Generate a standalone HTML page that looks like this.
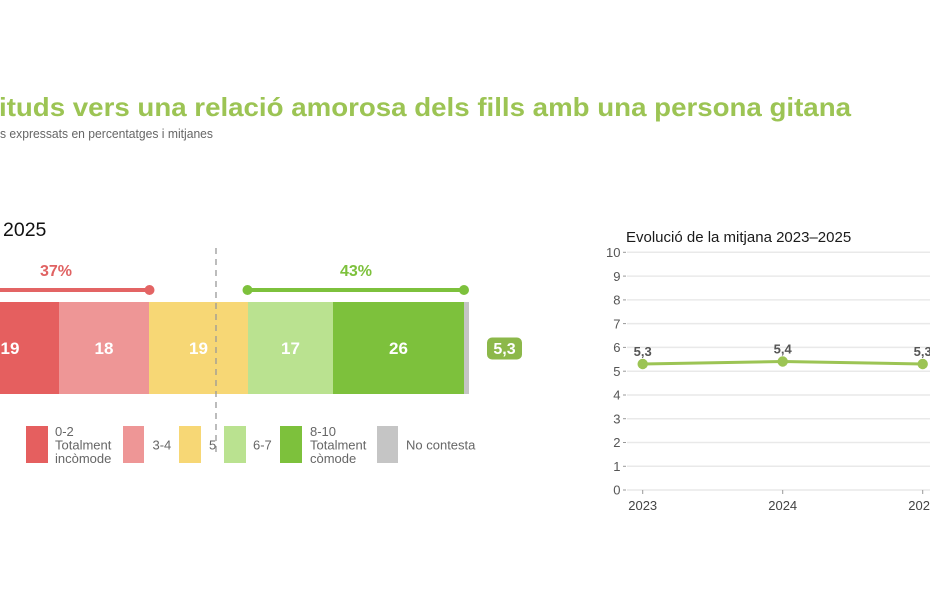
<!DOCTYPE html>
<html><head><meta charset="utf-8"><style>
html,body{margin:0;padding:0;background:#fff;width:930px;height:602px;overflow:hidden}
svg{display:block}
text{font-family:"Liberation Sans",Arial,sans-serif}
</style></head><body>
<svg width="930" height="602" viewBox="0 0 930 602" xmlns="http://www.w3.org/2000/svg">
<rect width="930" height="602" fill="#fff"/>
<!-- Title -->
<text x="-1" y="116" font-size="26" font-weight="bold" fill="#9cc454" textLength="852" lengthAdjust="spacingAndGlyphs">ituds vers una relació amorosa dels fills amb una persona gitana</text>
<text x="0" y="138" font-size="12.5" fill="#666" textLength="213" lengthAdjust="spacingAndGlyphs">s expressats en percentatges i mitjanes</text>
<text x="3" y="236" font-size="19.5" fill="#111">2025</text>

<!-- brackets -->
<line x1="-40" y1="290" x2="149.5" y2="290" stroke="#e36464" stroke-width="4"/>
<circle cx="149.5" cy="290" r="5" fill="#e36464"/>
<text x="56" y="276" font-size="16" font-weight="bold" fill="#e06262" text-anchor="middle">37%</text>
<line x1="247.5" y1="290" x2="464" y2="290" stroke="#7dc13c" stroke-width="4"/>
<circle cx="247.5" cy="290" r="5" fill="#7dc13c"/>
<circle cx="464" cy="290" r="5" fill="#7dc13c"/>
<text x="356" y="276" font-size="16" font-weight="bold" fill="#7dc13c" text-anchor="middle">43%</text>

<!-- bar -->
<rect x="-36" y="302" width="95" height="92" fill="#e55f5f"/>
<rect x="59" y="302" width="90" height="92" fill="#ee9696"/>
<rect x="149" y="302" width="99" height="92" fill="#f7d775"/>
<rect x="248" y="302" width="85" height="92" fill="#bae290"/>
<rect x="333" y="302" width="131" height="92" fill="#7dc13c"/>
<rect x="464" y="302" width="5" height="92" fill="#c5c5c5"/>
<g font-size="17" font-weight="bold" fill="#fff" text-anchor="middle">
<text x="10" y="354">19</text>
<text x="104" y="354">18</text>
<text x="198.5" y="354">19</text>
<text x="290.5" y="354">17</text>
<text x="398.5" y="354">26</text>
</g>
<line x1="216" y1="248" x2="216" y2="452" stroke="#999" stroke-width="1.3" stroke-dasharray="6,5"/>

<!-- badge -->
<rect x="487" y="337.5" width="35" height="22" rx="5" fill="#8cb84a"/>
<text x="504.5" y="354" font-size="16" font-weight="bold" fill="#fff" text-anchor="middle">5,3</text>

<!-- legend -->
<g font-size="13" fill="#666">
<rect x="26" y="426" width="22" height="37" fill="#e55f5f"/>
<text x="55" y="436">0-2</text>
<text x="55" y="449.5">Totalment</text>
<text x="55" y="463">incòmode</text>
<rect x="123" y="426" width="21" height="37" fill="#ee9696"/>
<text x="152.5" y="449.5">3-4</text>
<rect x="179" y="426" width="22" height="37" fill="#f7d775"/>
<text x="209" y="449.5">5</text>
<rect x="224" y="426" width="22" height="37" fill="#bae290"/>
<text x="253" y="449.5">6-7</text>
<rect x="280" y="426" width="22" height="37" fill="#7dc13c"/>
<text x="310" y="436">8-10</text>
<text x="310" y="449.5">Totalment</text>
<text x="310" y="463">còmode</text>
<rect x="377" y="426" width="21" height="37" fill="#c5c5c5"/>
<text x="406" y="449.5">No contesta</text>
</g>

<!-- line chart -->
<text x="626" y="242" font-size="15" fill="#1a1a1a">Evolució de la mitjana 2023–2025</text>
<g stroke="#e9e9e9" stroke-width="1.5">
<line x1="627" y1="252.3" x2="930" y2="252.3"/>
<line x1="627" y1="276.1" x2="930" y2="276.1"/>
<line x1="627" y1="299.9" x2="930" y2="299.9"/>
<line x1="627" y1="323.6" x2="930" y2="323.6"/>
<line x1="627" y1="347.4" x2="930" y2="347.4"/>
<line x1="627" y1="371.2" x2="930" y2="371.2"/>
<line x1="627" y1="395.0" x2="930" y2="395.0"/>
<line x1="627" y1="418.7" x2="930" y2="418.7"/>
<line x1="627" y1="442.5" x2="930" y2="442.5"/>
<line x1="627" y1="466.3" x2="930" y2="466.3"/>
<line x1="627" y1="490.0" x2="930" y2="490.0"/>
</g>
<g stroke="#999" stroke-width="1">
<line x1="623" y1="252.3" x2="626" y2="252.3"/>
<line x1="623" y1="276.1" x2="626" y2="276.1"/>
<line x1="623" y1="299.9" x2="626" y2="299.9"/>
<line x1="623" y1="323.6" x2="626" y2="323.6"/>
<line x1="623" y1="347.4" x2="626" y2="347.4"/>
<line x1="623" y1="371.2" x2="626" y2="371.2"/>
<line x1="623" y1="395.0" x2="626" y2="395.0"/>
<line x1="623" y1="418.7" x2="626" y2="418.7"/>
<line x1="623" y1="442.5" x2="626" y2="442.5"/>
<line x1="623" y1="466.3" x2="626" y2="466.3"/>
<line x1="623" y1="490.0" x2="626" y2="490.0"/>
<line x1="642.7" y1="490" x2="642.7" y2="494"/>
<line x1="782.7" y1="490" x2="782.7" y2="494"/>
<line x1="922.7" y1="490" x2="922.7" y2="494"/>
</g>
<g font-size="13" fill="#555" text-anchor="end">
<text x="620.5" y="257">10</text>
<text x="620.5" y="280.8">9</text>
<text x="620.5" y="304.6">8</text>
<text x="620.5" y="328.3">7</text>
<text x="620.5" y="352.1">6</text>
<text x="620.5" y="375.9">5</text>
<text x="620.5" y="399.7">4</text>
<text x="620.5" y="423.4">3</text>
<text x="620.5" y="447.2">2</text>
<text x="620.5" y="471">1</text>
<text x="620.5" y="494.7">0</text>
</g>
<g font-size="13" fill="#444" text-anchor="middle">
<text x="642.7" y="510">2023</text>
<text x="782.7" y="510">2024</text>
<text x="922.7" y="510">2025</text>
</g>
<polyline points="642.7,364 782.7,361.5 922.7,364" fill="none" stroke="#9cc454" stroke-width="3"/>
<circle cx="642.7" cy="364" r="5.2" fill="#9cc454"/>
<circle cx="782.7" cy="361.5" r="5.2" fill="#9cc454"/>
<circle cx="922.7" cy="364" r="5.2" fill="#9cc454"/>
<g font-size="13" font-weight="bold" fill="#555" text-anchor="middle">
<text x="642.7" y="356">5,3</text>
<text x="782.7" y="353.5">5,4</text>
<text x="922.7" y="356">5,3</text>
</g>
</svg>
</body></html>
